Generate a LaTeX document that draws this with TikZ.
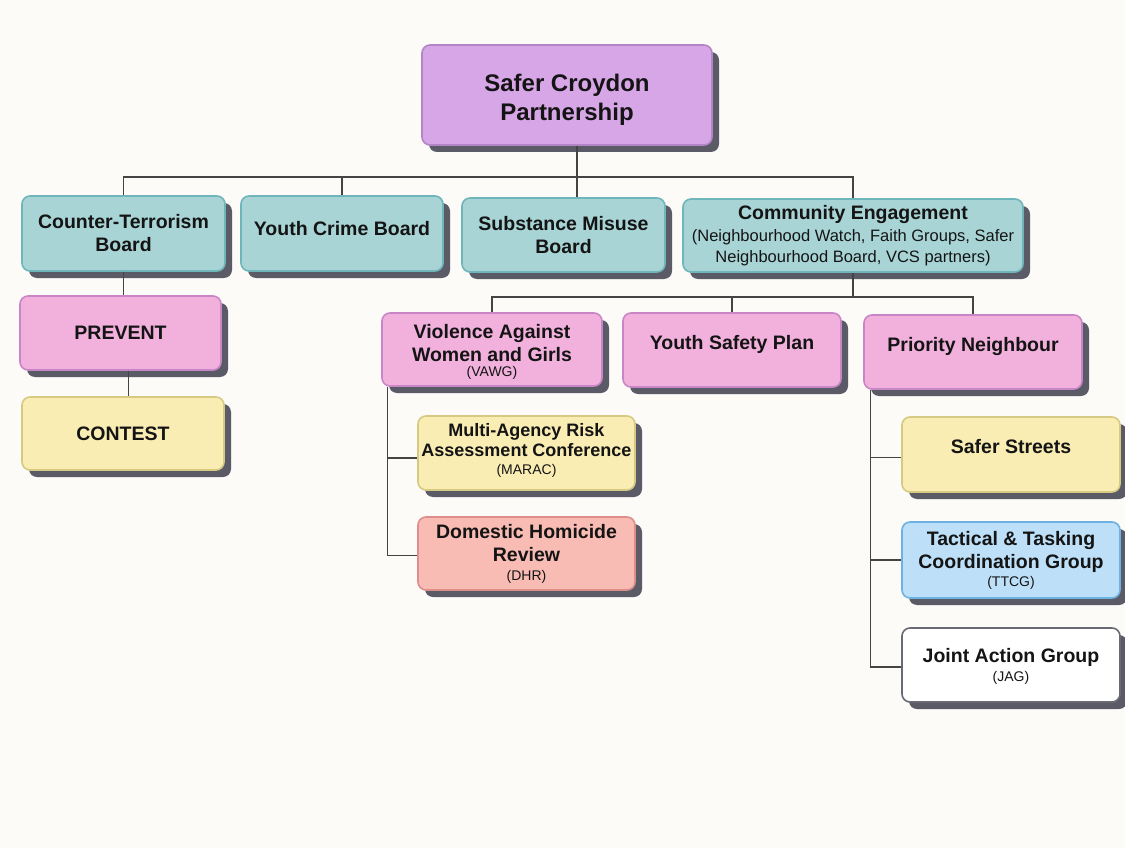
\documentclass[tikz,border=0pt]{standalone}
\usepackage{fontspec}
\setmainfont{Liberation Sans}
\usetikzlibrary{shadows,calc}
\definecolor{bg}{HTML}{FDFBF8}
\definecolor{txt}{HTML}{141414}
\definecolor{shd}{HTML}{5B5B68}
\definecolor{ln}{HTML}{444444}
\definecolor{lilacF}{HTML}{D7A6E6}\definecolor{lilacD}{HTML}{B286C6}
\definecolor{tealF}{HTML}{A8D4D6}\definecolor{tealD}{HTML}{6FB6BA}
\definecolor{pinkF}{HTML}{F2B1DC}\definecolor{pinkD}{HTML}{C986C6}
\definecolor{yelF}{HTML}{F9EDB4}\definecolor{yelD}{HTML}{D6CA82}
\definecolor{salF}{HTML}{F8BCB4}\definecolor{salD}{HTML}{DE8E88}
\definecolor{bluF}{HTML}{BDE0F8}\definecolor{bluD}{HTML}{6EB2E2}
\definecolor{whtD}{HTML}{6A6A74}
\newcommand{\upby}[2]{\raisebox{#1}[\height][\depth]{#2}}
\begin{document}
\begin{tikzpicture}[x=1pt,y=-1pt,
  box/.style={draw, line width=1.6pt, rounded corners=8pt, align=center, text=txt,
    font=\bfseries\fontsize{19.5}{23}\selectfont, inner sep=0pt,
    drop shadow={shadow xshift=7pt, shadow yshift=-7pt, fill=shd, opacity=1}},
  lilac/.style={box, fill=lilacF, draw=lilacD},
  teal/.style={box, fill=tealF, draw=tealD},
  pinkb/.style={box, fill=pinkF, draw=pinkD},
  yelb/.style={box, fill=yelF, draw=yelD},
  salb/.style={box, fill=salF, draw=salD},
  blub/.style={box, fill=bluF, draw=bluD},
  whtb/.style={box, fill=white, draw=whtD},
  conn/.style={draw=ln, line width=1.4pt}]
\fill[bg] (0,0) rectangle (1125,848);

\node[lilac, minimum width=290pt, minimum height=100pt, font=\bfseries\fontsize{24}{29}\selectfont] (top) at (567,95) {\upby{-5pt}{\begin{tabular}{@{}c@{}}Safer Croydon\\Partnership\end{tabular}}};

\node[teal, minimum width=203pt, minimum height=75pt] (cte) at (123.5,233.5) {Counter-Terrorism\\Board};
\node[teal, minimum width=202pt, minimum height=75pt] (ycb) at (342,233.5) {\upby{4.5pt}{Youth Crime Board}};
\node[teal, minimum width=203pt, minimum height=74pt] (smb) at (563.5,235) {Substance Misuse\\Board};
\node[teal, minimum width=340pt, minimum height=73pt] (ce) at (853,235.5) {\fontsize{19.5}{22}\selectfont Community Engagement\\[-1pt]{\mdseries\fontsize{16.5}{20}\selectfont (Neighbourhood Watch, Faith Groups, Safer}\\[-2pt]{\mdseries\fontsize{16.5}{20}\selectfont Neighbourhood Board, VCS partners)}};

\node[pinkb, minimum width=201pt, minimum height=74pt] (prev) at (120.5,333) {PREVENT};
\node[yelb, minimum width=202pt, minimum height=73pt] (cont) at (123,433.5) {CONTEST};

\node[pinkb, minimum width=220pt, minimum height=73pt] (vawg) at (492,349.5) {\upby{-3pt}{\begin{tabular}{@{}c@{}}Violence Against\\Women and Girls\\[-8pt]{\mdseries\fontsize{14}{17}\selectfont (VAWG)}\end{tabular}}};
\node[pinkb, minimum width=218pt, minimum height=74pt] (ysp) at (732,350) {\upby{6pt}{Youth Safety Plan}};
\node[pinkb, minimum width=218pt, minimum height=74pt] (pn) at (973,352) {\upby{6pt}{Priority Neighbour}};

\node[yelb, minimum width=217pt, minimum height=74pt, font=\bfseries\fontsize{18}{21}\selectfont] (marac) at (526.5,453) {\upby{2pt}{\begin{tabular}{@{}c@{}}Multi-Agency Risk\\[-1pt]Assessment Conference\\[-3pt]{\mdseries\fontsize{14}{17}\selectfont (MARAC)}\end{tabular}}};
\node[salb, minimum width=217pt, minimum height=73pt] (dhr) at (526.5,553.5) {Domestic Homicide\\Review\\[-4pt]{\mdseries\fontsize{14}{17}\selectfont (DHR)}};

\node[yelb, minimum width=218pt, minimum height=75pt] (ss) at (1011,454.5) {\upby{8pt}{Safer Streets}};
\node[blub, minimum width=218pt, minimum height=76pt] (ttcg) at (1011,560) {Tactical \& Tasking\\Coordination Group\\[-5pt]{\mdseries\fontsize{14}{17}\selectfont (TTCG)}};
\node[whtb, minimum width=218pt, minimum height=74pt] (jag) at (1011,665) {\upby{-2pt}{\begin{tabular}{@{}c@{}}Joint Action Group\\[-4pt]{\mdseries\fontsize{14}{17}\selectfont (JAG)}\end{tabular}}};

% connectors
\coordinate (bus) at (577,177);
\draw[conn] (cte.north) |- (bus) -| (ce.north);
\draw[conn] (ycb.north) |- (bus);
\draw[conn] (top.south -| bus) -- (smb.north -| bus);
\draw[conn] (cte.south) -- (cte.south |- prev.north);
\draw[conn] ([xshift=8pt]prev.south) -- ([xshift=8pt]prev.south |- cont.north);

\coordinate (bus2) at (855,297);
\draw[conn] (ce.south) -- (ce.south |- bus2);
\draw[conn] (vawg.north) |- (bus2) -| (pn.north);
\draw[conn] (ysp.north) |- (bus2);

\coordinate (vl) at ($(vawg.south west)+(6,0)$);
\draw[conn] (vl) |- ([yshift=-5pt]marac.west);
\draw[conn] (vl) |- ([yshift=-2pt]dhr.west);

\coordinate (pl) at ($(pn.south west)+(7,0)$);
\draw[conn] (pl) |- ([yshift=-3pt]ss.west);
\draw[conn] (pl) |- (ttcg.west);
\draw[conn] (pl) |- ([yshift=-2pt]jag.west);
\end{tikzpicture}
\end{document}
